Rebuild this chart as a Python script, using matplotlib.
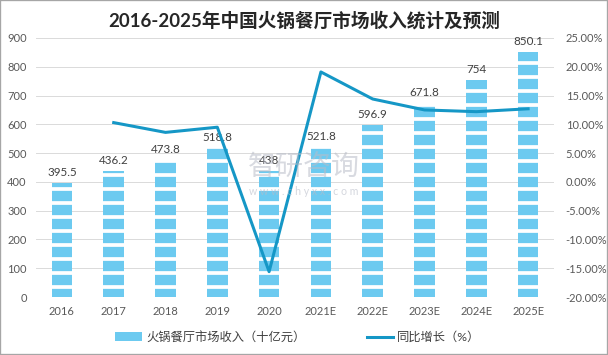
import numpy as np
import matplotlib
matplotlib.use("Agg")
import matplotlib.pyplot as plt
from matplotlib.patches import Patch, Rectangle
from matplotlib.lines import Line2D

plt.rcParams['font.family'] = ['Lato', 'Noto Sans CJK SC', 'DejaVu Sans']
plt.rcParams['hatch.linewidth'] = 3.2

# data
years = ['2016', '2017', '2018', '2019', '2020', '2021E', '2022E', '2023E', '2024E', '2025E']
revenue = [395.5, 436.2, 473.8, 518.8, 438, 521.8, 596.9, 671.8, 754, 850.1]
growth = [np.nan, 10.3, 8.6, 9.5, -15.6, 19.1, 14.4, 12.5, 12.2, 12.7]  # %

title = '2016-2025年中国火锅餐厅市场收入统计及预测'
bar_name = '火锅餐厅市场收入（十亿元）'
line_name = '同比增长（%）'

BAR_COLOR = '#6ccaf0'
LINE_COLOR = '#1597c6'
TICK_COLOR = '#595959'
GRID_COLOR = '#d9d9d9'

DPI = 84
fig = plt.figure(figsize=(608 / DPI, 355 / DPI), dpi=DPI)
ax = fig.add_axes([36 / 608, 1 - 297 / 355, (554 - 36) / 608, (297 - 38) / 355])
ax2 = ax.twinx()

x = np.arange(len(years))
bars = ax.bar(x, revenue, width=0.4, color=BAR_COLOR, edgecolor='white',
              linewidth=0, hatch='-', zorder=2)
for xi, v in zip(x, revenue):
    ax.text(xi, v + 18, f'{v:g}', ha='center', va='bottom', fontsize=10,
            color='#404040', zorder=4)

ax.set_ylim(0, 900)
ax.set_yticks(np.arange(0, 901, 100))
ax.set_xlim(-0.5, len(years) - 0.5)
ax.set_xticks(x)
ax.set_xticklabels(years)
ax.grid(axis='y', color=GRID_COLOR, linewidth=0.8, zorder=0)
ax.set_axisbelow(True)

ax2.plot(x, growth, color=LINE_COLOR, linewidth=2.6, zorder=3)
ax2.set_ylim(-20, 25)
ax2.set_yticks(np.arange(-20, 26, 5))
ax2.set_yticklabels([f'{t:.2f}%' for t in np.arange(-20, 26, 5)])

for a in (ax, ax2):
    for s in a.spines.values():
        s.set_visible(False)
    a.tick_params(length=0, colors=TICK_COLOR, labelsize=9.5)
ax.tick_params(axis='y', pad=8)
ax.tick_params(axis='x', pad=8)
ax2.tick_params(axis='y', pad=10)

fig.text(0.5, 1 - 20 / 355, title, ha='center', va='center', fontsize=16,
         fontweight='bold', color='#262626')

# faint watermark
fig.text(0.5, 1 - 168 / 355, '智研咨询', ha='center', va='center', fontsize=24,
         color='#b8bcc8', alpha=0.55, zorder=5)
fig.text(0.5, 1 - 192 / 355, 'w w w . c h y x x . c o m', ha='center',
         va='center', fontsize=9, color='#b8bcc8', alpha=0.6, zorder=5)

handles = [Patch(facecolor=BAR_COLOR, edgecolor='white', hatch='-', linewidth=0),
           Line2D([0], [0], color=LINE_COLOR, linewidth=2.6)]
fig.legend(handles, [bar_name, line_name], loc='center', ncol=2,
           bbox_to_anchor=(0.49, 1 - 337 / 355), frameon=False, fontsize=10.5,
           handlelength=2.2, handletextpad=0.3, columnspacing=5,
           labelcolor='#404040')

fig.patches.append(Rectangle((0, 0), 1, 1, transform=fig.transFigure,
                             fill=False, edgecolor='#a6a6a6', linewidth=2))

fig.savefig('out.png', dpi=DPI)
